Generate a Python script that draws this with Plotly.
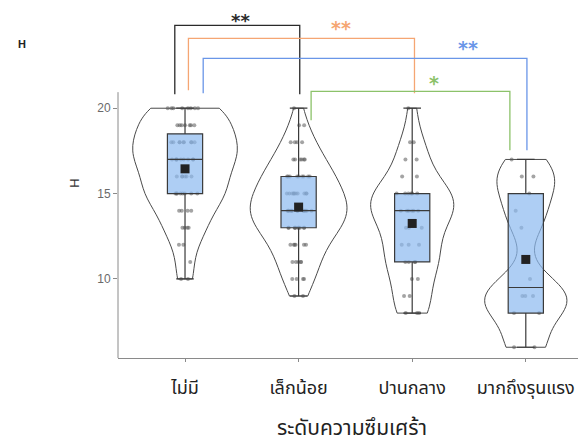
import numpy as np
import plotly.graph_objects as go

# ---------------- data ----------------
categories = ["ไม่มี", "เล็กน้อย", "ปานกลาง", "มากถึงรุนแรง"]

none_scores = [10, 11, 12, 13, 14, 15, 16, 17, 18, 19, 20]
none_counts = [2, 1, 2, 4, 4, 8, 6, 9, 9, 7, 8]

mild_scores = [9, 10, 11, 12, 13, 14, 15, 16, 17, 18, 19, 20]
mild_counts = [2, 4, 5, 6, 10, 13, 10, 9, 6, 4, 2, 1]

moderate_scores = [8, 9, 10, 11, 12, 13, 14, 15, 16, 17, 18, 20]
moderate_counts = [3, 2, 2, 4, 3, 3, 6, 6, 2, 2, 2, 1]

severe_values = [6, 6, 8, 8, 9, 9, 9, 10, 13, 14, 15, 16, 16, 17]

y_ticks = [10, 15, 20]
y_title = "H"
x_title = "ระดับความซึมเศร้า"
plot_tag = "H"

# significance brackets: (from group, to group, label, colour)
comparisons = [
    (0, 1, "**", "#2a2a2a"),
    (0, 2, "**", "#F5A673"),
    (0, 3, "**", "#6A96E8"),
    (1, 3, "*", "#8CC26A"),
]

groups = [
    np.repeat(none_scores, none_counts),
    np.repeat(mild_scores, mild_counts),
    np.repeat(moderate_scores, moderate_counts),
    np.array(severe_values),
]

# ---------------- style ----------------
violin_widths = [0.92, 0.85, 0.73, 0.72]
violin_bw = [0.95, 1.0, 1.1, 1.1]
box_width = 0.31
thai_font = "Tahoma, 'Noto Sans Thai', 'Loma', 'Garuda', sans-serif"

fig = go.Figure()

for cat, vals, w, bw in zip(categories, groups, violin_widths, violin_bw):
    fig.add_trace(go.Violin(
        x=[cat] * len(vals), y=vals, name=cat,
        width=w, bandwidth=bw, spanmode="hard", scalemode="width",
        line=dict(color="#4a4a4a", width=1), fillcolor="rgba(255,255,255,0)",
        points="all", jitter=0.45, pointpos=0,
        marker=dict(color="rgba(90,90,90,0.55)", size=4),
        box_visible=False, meanline_visible=False, showlegend=False,
        hoverinfo="skip",
    ))

for cat, vals in zip(categories, groups):
    fig.add_trace(go.Box(
        x=[cat] * len(vals), y=vals, name=cat, width=box_width,
        boxpoints="outliers",
        marker=dict(color="rgba(0,0,0,0)", size=1, line=dict(width=0)),
        line=dict(color="#3a3a3a", width=1.2),
        fillcolor="rgba(140,185,240,0.7)",
        showlegend=False, hoverinfo="skip",
    ))

fig.add_trace(go.Scatter(
    x=categories, y=[float(np.mean(v)) for v in groups], mode="markers",
    marker=dict(symbol="square", size=9, color="#222222"),
    showlegend=False, hoverinfo="skip",
))

# bracket geometry (layout only)
bracket_geom = [
    # x-left offset, x-right offset, y top, y left end, y right end, label x, label y, anchor
    (-0.09, 0.01, 24.85, 20.82, 20.82, 0.49, 25.87, "top"),
    (0.03, 0.02, 24.09, 21.05, 20.88, 1.37, 24.70, "middle"),
    (0.16, 0.01, 22.92, 20.88, 17.54, 2.49, 23.55, "middle"),
    (0.11, -0.14, 20.99, 19.30, 17.54, 2.19, 21.45, "middle"),
]
for (g0, g1, lab, col), (dl, dr, yt, yl, yr, lx, ly, anc) in zip(comparisons, bracket_geom):
    x0, x1 = g0 + dl, g1 + dr
    fig.add_shape(type="path", xref="x", yref="y",
                  path=f"M {x0},{yl} L {x0},{yt} L {x1},{yt} L {x1},{yr}",
                  line=dict(color=col, width=1.3))
    fig.add_annotation(x=lx, y=ly, xref="x", yref="y", text=f"<b>{lab}</b>",
                       showarrow=False, yanchor=anc,
                       font=dict(family="DejaVu Sans", size=19 if anc == "middle" else 18, color=col))

# y axis line (stops just above top tick, like the reference)
fig.add_shape(type="line", xref="paper", yref="y", x0=0, x1=0, y0=5.37, y1=20.94,
              line=dict(color="#8a8a8a", width=1))

fig.update_layout(
    width=578, height=436,
    margin=dict(l=110, r=0, t=0, b=86),
    paper_bgcolor="white", plot_bgcolor="white",
    violinmode="overlay", boxmode="overlay",
    title=dict(text=f"<b>{plot_tag}</b>", x=0.0242, y=0.917, xanchor="center", yanchor="middle",
               font=dict(family="Liberation Sans", size=11, color="#222")),
    xaxis=dict(
        range=[-0.59, 3.53], showgrid=False, zeroline=False,
        showline=True, linecolor="#8a8a8a", linewidth=1,
        ticks="outside", ticklen=3, tickcolor="#8a8a8a", ticklabelstandoff=10,
        tickfont=dict(family=thai_font, size=18, color="#222"),
        title=dict(text=x_title, font=dict(family=thai_font, size=21, color="#222"), standoff=24),
    ),
    yaxis=dict(
        range=[5.37, 25.87], showgrid=False, zeroline=False, showline=False,
        tickvals=y_ticks, ticks="outside", ticklen=4, tickcolor="#8a8a8a",
        tickfont=dict(family="Liberation Sans", size=12, color="#6a6a6a"),
        title=dict(text=y_title, font=dict(family="Liberation Sans", size=13, color="#333"), standoff=14),
    ),
)

fig.write_html("out.html")
